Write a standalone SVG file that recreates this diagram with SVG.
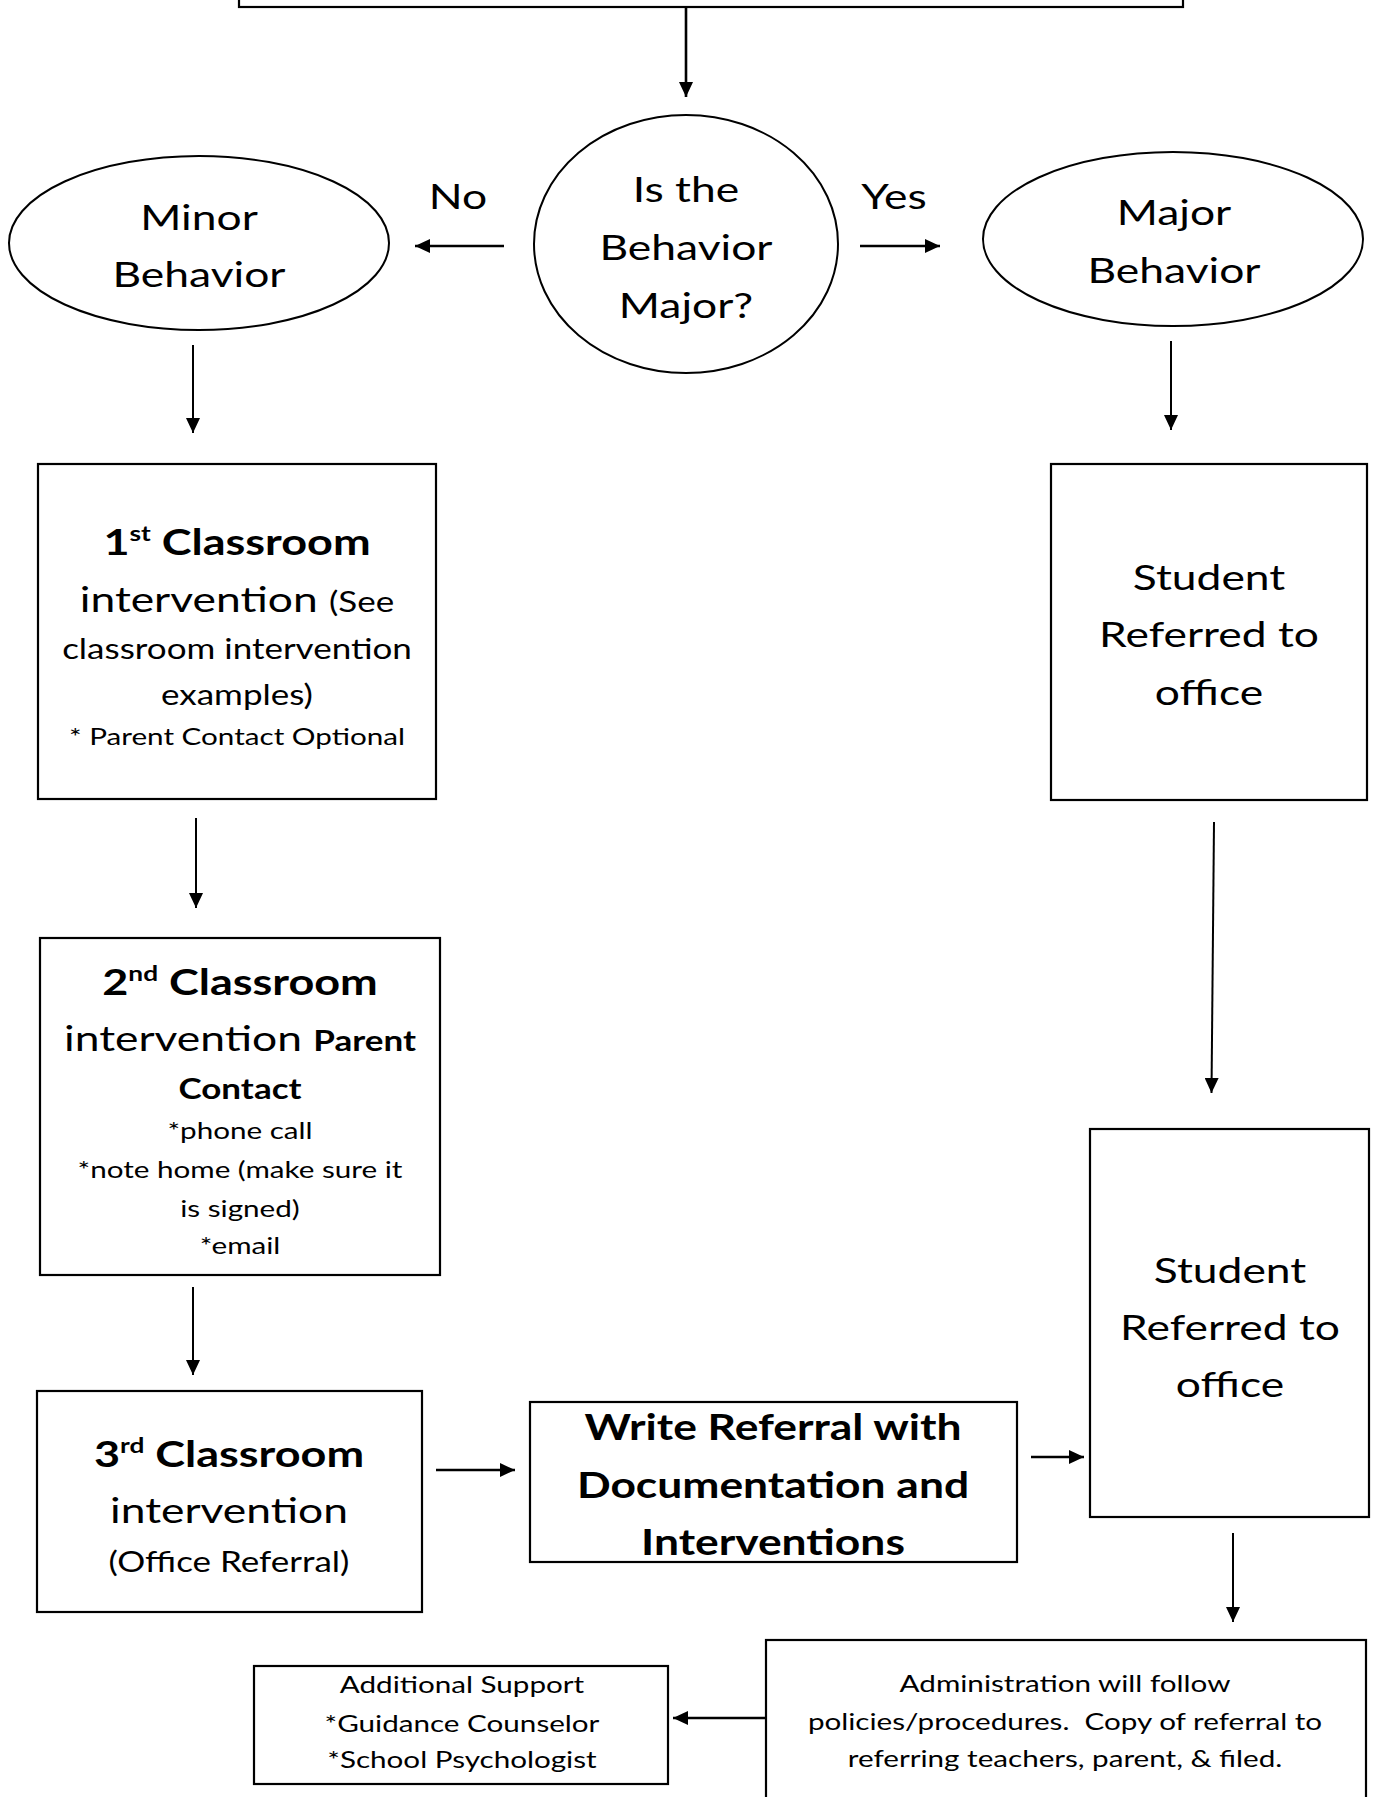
<svg xmlns="http://www.w3.org/2000/svg" width="1373" height="1797" viewBox="0 0 1373 1797">
<style>
  .bx { fill: #fff; stroke: #000; stroke-width: 2.2; }
  .el { fill: #fff; stroke: #000; stroke-width: 2; }
  .cn line { stroke: #000; stroke-width: 2; marker-end: url(#ah); }
  .cn line.thick { stroke-width: 2.6; }
  text { font-family: Lato, "Liberation Sans", sans-serif; fill: #000; text-anchor: middle; }
  .L { font-size: 35.5px; }
  .M { font-size: 28px; }
  .S { font-size: 23.7px; }
  .H { font-size: 36px; font-weight: 700; }
  .W { font-size: 35.5px; font-weight: 700; }
  .P { font-size: 28px; font-weight: 700; }
  .sup { font-size: 21px; }
</style>
<defs>
  <marker id="ah" viewBox="0 0 15 14" refX="15" refY="7" markerWidth="15" markerHeight="14" markerUnits="userSpaceOnUse" orient="auto">
    <path d="M0,0 L15,7 L0,14 z" fill="#000"/>
  </marker>
</defs>
<rect width="1373" height="1797" fill="#fff"/>

<g id="top-box">
  <rect class="bx" x="239" y="-10" width="944" height="17" stroke-width="2.6"/>
</g>

<g id="decision">
  <ellipse class="el" cx="686" cy="244" rx="152" ry="129"/>
  <g transform="translate(686 0) scale(1.25 1)">
    <text class="L" y="202">Is the</text>
    <text class="L" y="260">Behavior</text>
    <text class="L" y="318">Major?</text>
  </g>
</g>

<g id="label-no" transform="translate(458 0) scale(1.25 1)">
  <text class="L" y="209">No</text>
</g>
<g id="label-yes" transform="translate(894 0) scale(1.25 1)">
  <text class="L" y="209">Yes</text>
</g>

<g id="minor">
  <ellipse class="el" cx="199" cy="243" rx="190" ry="87"/>
  <g transform="translate(199 0) scale(1.25 1)">
    <text class="L" y="230">Minor</text>
    <text class="L" y="287">Behavior</text>
  </g>
</g>

<g id="major">
  <ellipse class="el" cx="1173" cy="239" rx="190" ry="87"/>
  <g transform="translate(1174 0) scale(1.25 1)">
    <text class="L" y="225">Major</text>
    <text class="L" y="283">Behavior</text>
  </g>
</g>

<g id="first-intervention">
  <rect class="bx" x="38" y="464" width="398" height="335"/>
  <g transform="translate(237 0) scale(1.25 1)">
    <text class="H" y="555">1<tspan class="sup" dy="-14">st</tspan><tspan dy="14"> Classroom</tspan></text>
    <text class="L" y="612">intervention <tspan class="M">(See</tspan></text>
    <text class="M" y="659">classroom intervention</text>
    <text class="M" y="705">examples)</text>
    <text class="S" y="745">* Parent Contact Optional</text>
  </g>
</g>

<g id="student-referred-1">
  <rect class="bx" x="1051" y="464" width="316" height="336"/>
  <g transform="translate(1209 0) scale(1.25 1)">
    <text class="L" y="590">Student</text>
    <text class="L" y="647">Referred to</text>
    <text class="L" y="705">office</text>
  </g>
</g>

<g id="second-intervention">
  <rect class="bx" x="40" y="938" width="400" height="337"/>
  <g transform="translate(240 0) scale(1.25 1)">
    <text class="H" y="995">2<tspan class="sup" dy="-14">nd</tspan><tspan dy="14"> Classroom</tspan></text>
    <text class="L" y="1051">intervention <tspan class="P">Parent</tspan></text>
    <text class="P" y="1099">Contact</text>
    <text class="S" y="1139">*phone call</text>
    <text class="S" y="1178">*note home (make sure it</text>
    <text class="S" y="1217">is signed)</text>
    <text class="S" y="1254">*email</text>
  </g>
</g>

<g id="student-referred-2">
  <rect class="bx" x="1090" y="1129" width="279" height="388"/>
  <g transform="translate(1230 0) scale(1.25 1)">
    <text class="L" y="1283">Student</text>
    <text class="L" y="1340">Referred to</text>
    <text class="L" y="1397">office</text>
  </g>
</g>

<g id="third-intervention">
  <rect class="bx" x="37" y="1391" width="385" height="221"/>
  <g transform="translate(229 0) scale(1.25 1)">
    <text class="H" y="1467">3<tspan class="sup" dy="-14">rd</tspan><tspan dy="14"> Classroom</tspan></text>
    <text class="L" y="1523">intervention</text>
    <text class="M" y="1572">(Office Referral)</text>
  </g>
</g>

<g id="write-referral">
  <rect class="bx" x="530" y="1402" width="487" height="160"/>
  <g transform="translate(773 0) scale(1.25 1)">
    <text class="W" y="1440">Write Referral with</text>
    <text class="W" y="1498">Documentation and</text>
    <text class="W" y="1555">Interventions</text>
  </g>
</g>

<g id="administration">
  <rect class="bx" x="766" y="1640" width="600" height="200"/>
  <g transform="translate(1065 0) scale(1.25 1)">
    <text class="S" y="1692">Administration will follow</text>
    <text class="S" y="1730" xml:space="preserve">policies/procedures.  Copy of referral to</text>
    <text class="S" y="1767">referring teachers, parent, &amp; filed.</text>
  </g>
</g>

<g id="additional-support">
  <rect class="bx" x="254" y="1666" width="414" height="118"/>
  <g transform="translate(462 0) scale(1.25 1)">
    <text class="S" y="1693">Additional Support</text>
    <text class="S" y="1732">*Guidance Counselor</text>
    <text class="S" y="1768">*School Psychologist</text>
  </g>
</g>

<g id="connectors" class="cn">
  <line class="thick" x1="686" y1="7" x2="686" y2="97"/>
  <line class="thick" x1="504" y1="246" x2="415" y2="246"/>
  <line class="thick" x1="860" y1="246" x2="940" y2="246"/>
  <line x1="193" y1="345" x2="193" y2="433"/>
  <line x1="1171" y1="341" x2="1171" y2="430"/>
  <line x1="196" y1="818" x2="196" y2="908"/>
  <line x1="1214" y1="822" x2="1211.5" y2="1093"/>
  <line x1="193" y1="1287" x2="193" y2="1375"/>
  <line class="thick" x1="436" y1="1470" x2="515" y2="1470"/>
  <line class="thick" x1="1031" y1="1457" x2="1084" y2="1457"/>
  <line x1="1233" y1="1533" x2="1233" y2="1622"/>
  <line class="thick" x1="765" y1="1718" x2="673" y2="1718"/>
</g>
</svg>
